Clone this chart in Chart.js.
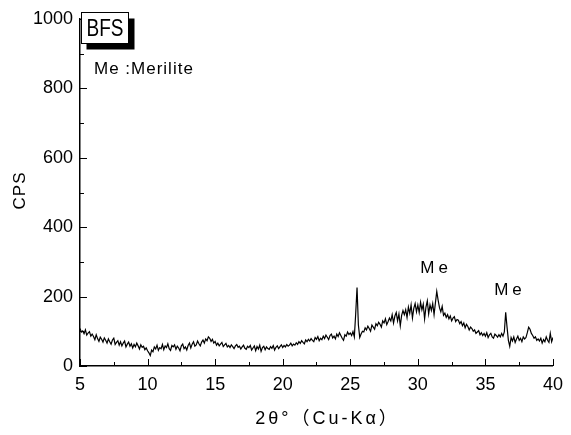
<!DOCTYPE html>
<html>
<head>
<meta charset="utf-8">
<script src="https://cdn.jsdelivr.net/npm/chart.js@4/dist/chart.umd.min.js"></script>
<style>
  html, body { margin: 0; padding: 0; background: #fff; }
  #wrap { width: 571px; height: 435px; }
</style>
</head>
<body>
<div id="wrap"><canvas id="c" width="571" height="435"></canvas></div>
<script>
// 2θ sampling: start and step (degrees)
const thetaStart = 5;
const thetaStep = 0.1;
// CPS, one value per 0.1°, 5.0 .. 40.0
const cps = [
  108, 98, 101, 93, 104, 89, 95, 99, 86, 92,
  85, 76, 90, 79, 71, 83, 77, 69, 81, 74,
  66, 78, 70, 63, 75, 80, 62, 68, 73, 60,
  70, 58, 66, 72, 55, 63, 69, 57, 64, 52,
  62, 55, 66, 58, 49, 61, 54, 57, 47, 52,
  44, 38, 30, 46, 41, 55, 49, 60, 45, 53,
  50, 62, 47, 58, 53, 64, 50, 45, 59, 55,
  61, 48, 57, 52, 44, 58, 63, 50, 55, 46,
  59, 66, 52, 63, 70, 57, 61, 72, 64, 58,
  69, 75, 66, 78, 73, 84, 80, 71, 77, 66,
  71, 60, 66, 58, 63, 68, 56, 61, 65, 55,
  59, 53, 61, 56, 50, 58, 62, 54, 57, 49,
  55, 60, 51, 48, 57, 53, 59, 46, 52, 58,
  44, 56, 49, 60, 42, 53, 57, 47, 55, 50,
  48, 56, 51, 59, 46, 54, 58, 50, 56, 61,
  53, 59, 55, 62, 57, 60, 66, 58, 63, 60,
  67, 62, 70, 65, 73, 68, 64, 75, 70, 77,
  72, 79, 74, 70, 82, 77, 85, 73, 80, 76,
  86, 79, 89, 83, 76, 88, 92, 81, 86, 78,
  92, 85, 96, 88, 80, 74, 90, 86, 98, 91,
  95, 88, 99, 84, 150, 226, 118, 82, 92, 100,
  98, 110, 104, 115, 108, 100, 118, 112, 106, 122,
  116, 126, 120, 112, 130, 124, 136, 119, 128, 138,
  130, 148, 124, 144, 154, 130, 150, 116, 146, 160,
  148, 162, 140, 170, 152, 176, 138, 166, 180, 156,
  176, 154, 184, 162, 178, 136, 170, 188, 150, 176,
  160, 180, 148, 182, 215, 190, 168, 156, 172, 146,
  152, 140, 148, 136, 144, 130, 138, 142, 128, 134,
  132, 122, 128, 116, 124, 110, 120, 114, 104, 112,
  108, 100, 104, 94, 98, 102, 90, 96, 88, 94,
  86, 96, 82, 90, 94, 84, 80, 92, 88, 83,
  90, 84, 94, 86, 98, 155, 112, 74, 57, 82,
  72, 84, 68, 78, 86, 74, 80, 70, 84, 78,
  82, 96, 112, 106, 94, 88, 80, 84, 74, 78,
  72, 80, 66, 76, 70, 84, 74, 68, 94, 70,
  82
];
// axis ticks
const xMajorTicks = [5, 10, 15, 20, 25, 30, 35, 40];
const xMinorTicks = [7.5, 12.5, 17.5, 22.5, 27.5, 32.5, 37.5];
const yMajorTicks = [0, 200, 400, 600, 800, 1000];
const yMinorTicks = [100, 300, 500, 700, 900];
// texts
const sampleName = 'BFS';
const legendNote = 'Me :Merilite';
const xTitle = '2θ°（Cu-Kα）';
const yTitle = 'CPS';
const peakLabelText = ['Me', 'Me'];
const peakLabelX = [31.2, 36.67];
const peakLabelY = [282, 219];

const points = cps.map((v, i) => ({ x: +(thetaStart + i * thetaStep).toFixed(1), y: v }));

function fitText(ctx, text, cx, cy, targetW, font, align) {
  ctx.save();
  ctx.font = font;
  const w = ctx.measureText(text).width;
  const s = targetW / w;
  ctx.textBaseline = 'middle';
  ctx.textAlign = 'left';
  const left = align === 'left' ? cx : cx - targetW / 2;
  ctx.translate(left, cy);
  ctx.scale(s, 1);
  ctx.fillText(text, 0, 0);
  ctx.restore();
}

const decor = {
  id: 'decor',
  afterDraw(chart) {
    const ctx = chart.ctx;
    const xs = chart.scales.x, ys = chart.scales.y;
    const a = chart.chartArea;
    ctx.save();
    ctx.strokeStyle = '#000';
    ctx.lineWidth = 1;
    ctx.beginPath();
    xMajorTicks.forEach(v => { const p = Math.round(xs.getPixelForValue(v)) + 0.5; ctx.moveTo(p, a.bottom); ctx.lineTo(p, a.bottom - 7); });
    xMinorTicks.forEach(v => { const p = Math.round(xs.getPixelForValue(v)) + 0.5; ctx.moveTo(p, a.bottom); ctx.lineTo(p, a.bottom - 4); });
    yMajorTicks.forEach(v => { const p = Math.round(ys.getPixelForValue(v)) + 0.5; ctx.moveTo(a.left, p); ctx.lineTo(a.left + 7, p); });
    yMinorTicks.forEach(v => { const p = Math.round(ys.getPixelForValue(v)) + 0.5; ctx.moveTo(a.left, p); ctx.lineTo(a.left + 4, p); });
    ctx.stroke();

    // sample name box with shadow
    const bx = a.left + 1.5, by = 12.5, bw = 47, bh = 31;
    ctx.fillStyle = '#000';
    ctx.fillRect(bx + 5, by + 6, bw + 1, bh);
    ctx.fillStyle = '#fff';
    ctx.fillRect(bx, by, bw, bh);
    ctx.strokeRect(bx, by, bw, bh);
    ctx.fillStyle = '#000';
    fitText(ctx, sampleName, bx + bw / 2, by + bh / 2 + 1, 37, '24px "Liberation Sans", Arial, sans-serif', 'center');

    // note
    ctx.save();
    ctx.font = '17px "Liberation Sans", Arial, sans-serif';
    ctx.letterSpacing = '1px';
    ctx.textBaseline = 'middle';
    ctx.textAlign = 'left';
    ctx.fillText(legendNote, a.left + 14, 69);
    ctx.restore();

    peakLabelText.forEach((t, i) => {
      const px = xs.getPixelForValue(peakLabelX[i]);
      const py = ys.getPixelForValue(peakLabelY[i]);
      ctx.save();
      ctx.font = '17px "Liberation Sans", Arial, sans-serif';
      ctx.letterSpacing = '4px';
      ctx.textAlign = 'center';
      ctx.textBaseline = 'middle';
      ctx.fillText(t, px + 2, py);
      ctx.restore();
    });

    // x axis title
    ctx.save();
    ctx.font = '18px "Liberation Sans", "Noto Sans CJK JP", sans-serif';
    ctx.letterSpacing = '3px';
    ctx.textAlign = 'center';
    ctx.textBaseline = 'middle';
    ctx.fillText(xTitle, (a.left + a.right) / 2 + 11, 419);
    ctx.restore();

    // y axis title
    ctx.save();
    ctx.font = '17px "Liberation Sans", Arial, sans-serif';
    ctx.letterSpacing = '1px';
    ctx.translate(20, (a.top + a.bottom) / 2 - 2);
    ctx.rotate(-Math.PI / 2);
    ctx.textAlign = 'center';
    ctx.textBaseline = 'middle';
    ctx.fillText(yTitle, 0, 0);
    ctx.restore();

    ctx.restore();
  }
};

const tickFont = { family: '"Liberation Sans", Arial, sans-serif', size: 18 };

new Chart(document.getElementById('c'), {
  type: 'line',
  data: {
    datasets: [{
      data: points,
      borderColor: '#000',
      borderWidth: 1.2,
      pointRadius: 0,
      tension: 0,
      fill: false
    }]
  },
  options: {
    responsive: false,
    animation: false,
    layout: { padding: { left: 10, right: 18, top: 19, bottom: 5 } },
    plugins: { legend: { display: false }, tooltip: { enabled: false } },
    scales: {
      x: {
        type: 'linear',
        min: 5, max: 40,
        afterFit(s) { s.height = 64; },
        ticks: { stepSize: 5, color: '#000', font: tickFont, padding: 8, maxRotation: 0, callback: v => String(v) },
        grid: { display: true, drawOnChartArea: false, drawTicks: false },
        border: { display: true, color: '#000', width: 1.5 }
      },
      y: {
        min: 0, max: 1000,
        afterFit(s) { s.width = 70; },
        ticks: { stepSize: 200, color: '#000', font: tickFont, padding: 7, callback: v => String(v) },
        grid: { display: true, drawOnChartArea: false, drawTicks: false },
        border: { display: true, color: '#000', width: 1.5 }
      }
    }
  },
  plugins: [decor]
});
</script>
</body>
</html>
